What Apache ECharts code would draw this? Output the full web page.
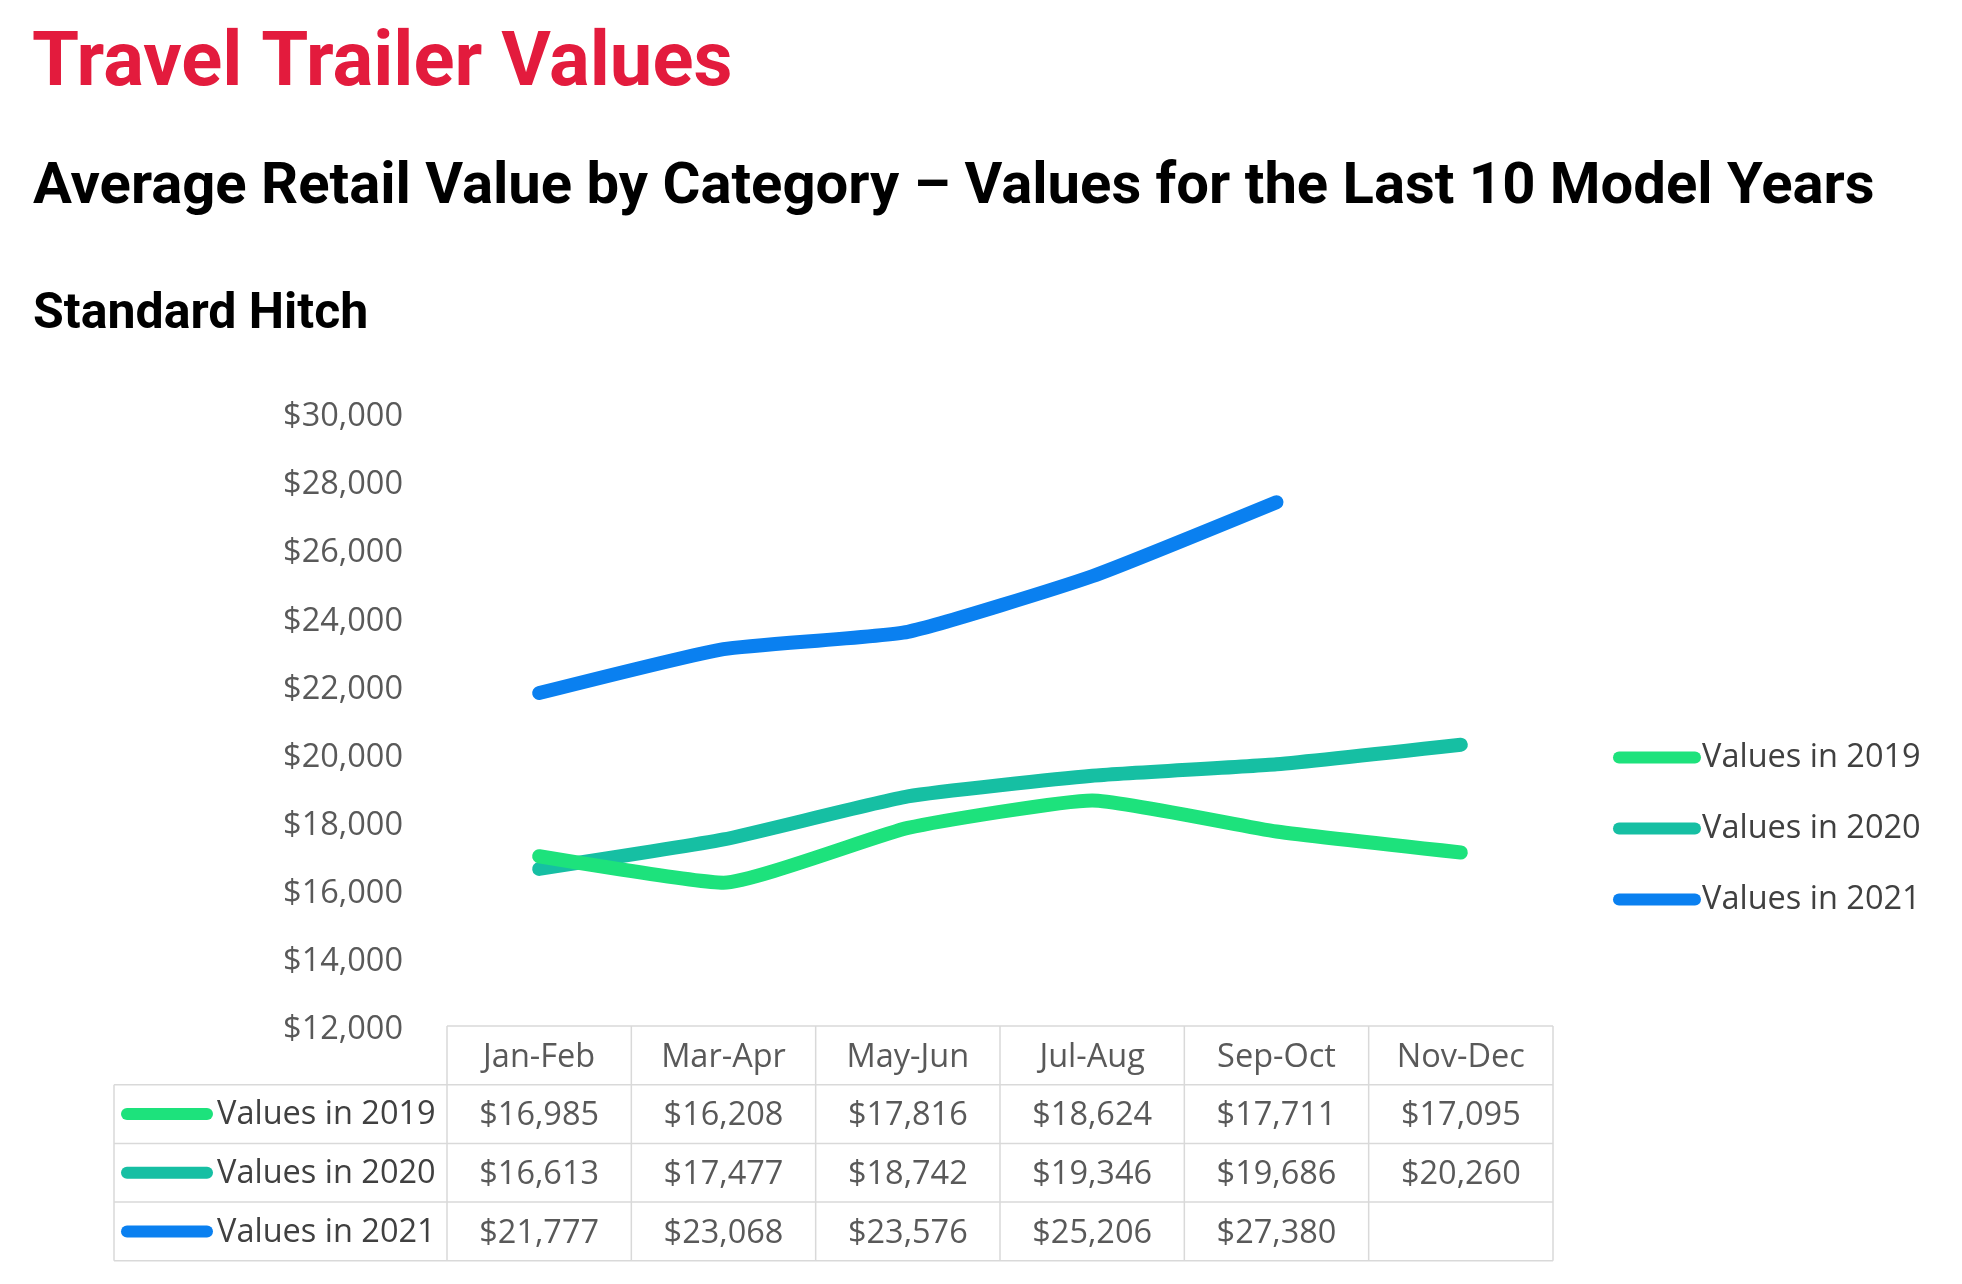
<!DOCTYPE html>
<html><head><meta charset="utf-8">
<script src="https://cdn.jsdelivr.net/npm/echarts@6/dist/echarts.min.js"></script>
<style>html,body{margin:0;padding:0;background:#fff}#c{width:1962px;height:1284px}</style>
</head><body><div id="c"></div>
<script>
const categories = ['Jan-Feb','Mar-Apr','May-Jun','Jul-Aug','Sep-Oct','Nov-Dec'];
const seriesNames = ['Values in 2019','Values in 2020','Values in 2021'];
const values2019 = [16985,16208,17816,18624,17711,17095];
const values2020 = [16613,17477,18742,19346,19686,20260];
const values2021 = [21777,23068,23576,25206,27380,null];
const yMin = 12000, yMax = 30000, yInterval = 2000;
const titleText = 'Travel Trailer Values';
const subtitleText = 'Average Retail Value by Category \u2013 Values for the Last 10 Model Years';
const sectionText = 'Standard Hitch';

const allValues = [values2019, values2020, values2021];
const colors = ['#1DE27C','#16BFA3','#0A80F0'];
const FONT = '"Open Sans", sans-serif';
const FS = 32.5;
const G = {left:447, right:409, top:413, bottom:258};
const W = 1962, H = 1284;
const ROW = 58.7;
const fmt = v => (v == null ? '' : '$' + v.toLocaleString('en-US'));

const chart = echarts.init(document.getElementById('c'), null, {renderer:'canvas'});

const gx0 = G.left, gx1 = W - G.right, gy1 = H - G.bottom;
const colW = (gx1 - gx0) / categories.length;
const tableLeft = 114;
const graphics = [];
const lineStyle = {stroke:'#D9D9D9', lineWidth:1.5};
graphics.push({type:'line', shape:{x1:gx0, y1:gy1, x2:gx1, y2:gy1}, style:lineStyle, silent:true});
for (let r = 1; r <= seriesNames.length; r++) {
  const y = gy1 + ROW * r;
  graphics.push({type:'line', shape:{x1:tableLeft, y1:y, x2:gx1, y2:y}, style:lineStyle, silent:true});
}
const yEnd = gy1 + ROW * (seriesNames.length + 1);
graphics.push({type:'line', shape:{x1:tableLeft, y1:yEnd, x2:gx1, y2:yEnd}, style:lineStyle, silent:true});
for (let c = 0; c <= categories.length; c++) {
  const x = gx0 + colW * c;
  graphics.push({type:'line', shape:{x1:x, y1:gy1, x2:x, y2:yEnd}, style:lineStyle, silent:true});
}
graphics.push({type:'line', shape:{x1:tableLeft, y1:gy1 + ROW, x2:tableLeft, y2:yEnd}, style:lineStyle, silent:true});
seriesNames.forEach((name, i) => {
  const cy = gy1 + ROW * (i + 1) + ROW / 2;
  graphics.push({type:'rect', shape:{x:121, y:cy - 6, width:92, height:12, r:6}, style:{fill:colors[i]}, silent:true});
  graphics.push({type:'text', style:{text:name, x:217, y:cy + 1, verticalAlign:'middle', font:FS + 'px ' + FONT, fill:'#404040'}, silent:true});
});
graphics.push({type:'text', style:{text:titleText, x:32, y:66, verticalAlign:'middle', font:'bold 76px Roboto', fill:'#E31B3D'}, silent:true});
graphics.push({type:'text', style:{text:subtitleText, x:33, y:188, verticalAlign:'middle', font:'bold 58px Roboto', fill:'#000'}, silent:true});
graphics.push({type:'text', style:{text:sectionText, x:33, y:315, verticalAlign:'middle', font:'bold 50px Roboto', fill:'#000'}, silent:true});

const option = {
  animation:false,
  backgroundColor:'#fff',
  color: colors,
  grid:{left:G.left, right:G.right, top:G.top, bottom:G.bottom, containLabel:false},
  legend:{
    orient:'vertical', left:1608, top:736, itemWidth:88, itemHeight:13, itemGap:38,
    icon:'path://M6,0 L82,0 A6,6 0 0 1 82,12 L6,12 A6,6 0 0 1 6,0 Z',
    textStyle:{fontFamily:FONT, fontSize:FS, color:'#404040', lineHeight:32, padding:[0,0,0,-4]},
    data: seriesNames
  },
  xAxis:{
    type:'category', data:categories, boundaryGap:true,
    axisLine:{show:false}, axisTick:{show:false},
    axisLabel:{
      margin:2, interval:0, verticalAlign:'top',
      formatter:(value, idx) => ['{h|' + value + '}'].concat(allValues.map(s => '{v|' + fmt(s[idx]) + '}')).join('\n'),
      rich:{
        h:{fontFamily:FONT, fontSize:FS, color:'#595959', lineHeight:ROW, height:ROW},
        v:{fontFamily:FONT, fontSize:FS, color:'#595959', lineHeight:ROW, height:ROW}
      }
    }
  },
  yAxis:{
    type:'value', min:yMin, max:yMax, interval:yInterval,
    axisLine:{show:false}, axisTick:{show:false}, splitLine:{show:false},
    axisLabel:{
      margin:44, formatter: v => '{y|' + fmt(v) + '}',
      rich:{y:{fontFamily:FONT, fontSize:FS, color:'#595959', padding:[8,0,0,0]}}
    }
  },
  series: seriesNames.map((name, i) => ({
    name, type:'line', data:allValues[i], symbol:'none', smooth:0.15, connectNulls:false,
    lineStyle:{width:14, color:colors[i], cap:'round', join:'round'},
    itemStyle:{color:colors[i]}, z: 2 + (i === 0 ? 1 : 0)
  })),
  graphic: graphics
};
chart.setOption(option);
</script></body></html>
